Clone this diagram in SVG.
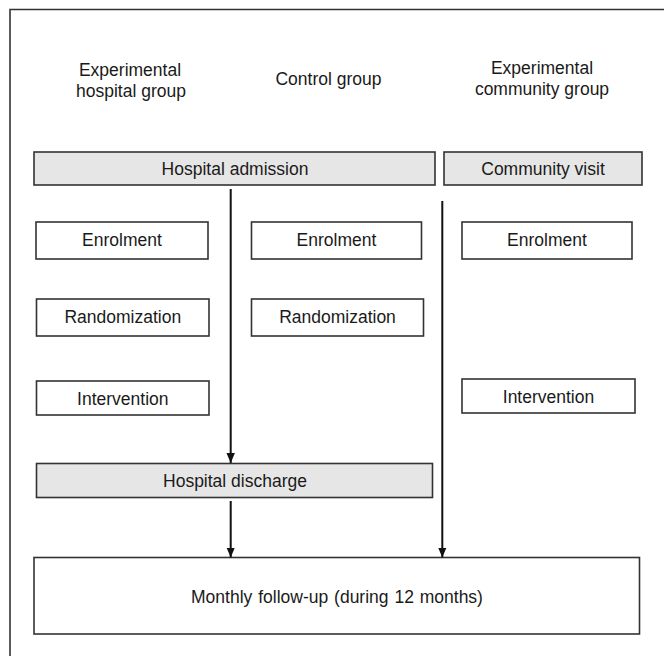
<svg xmlns="http://www.w3.org/2000/svg" width="664" height="656" viewBox="0 0 664 656">
<defs>
<style>
.box{fill:#ffffff;stroke:#333333;stroke-width:1.6}
.gbox{fill:#e6e6e6;stroke:#333333;stroke-width:1.6}
.t{font-family:"Liberation Sans",Arial,sans-serif;font-size:17.5px;fill:#1a1a1a;text-anchor:middle}
.ln{stroke:#111111;stroke-width:2;fill:none}
</style>
<marker id="ah" viewBox="0 0 10 10" refX="10" refY="5" markerWidth="10" markerHeight="10" markerUnits="userSpaceOnUse" orient="auto">
<path d="M0,0.8 L10,5 L0,9.2 Z" fill="#111111"/>
</marker>
</defs>
<rect width="664" height="656" fill="#ffffff"/>
<path d="M10,660 V9.5 H670" fill="none" stroke="#333333" stroke-width="1.6"/>

<g id="header-hospital">
<text class="t" x="130" y="76">Experimental</text>
<text class="t" x="131" y="97">hospital group</text>
</g>
<g id="header-control">
<text class="t" x="328.5" y="85">Control group</text>
</g>
<g id="header-community">
<text class="t" x="542" y="74">Experimental</text>
<text class="t" x="542" y="95">community group</text>
</g>

<g id="hospital-admission">
<rect class="gbox" x="34" y="152" width="401" height="33"/>
<text class="t" x="235" y="174.5">Hospital admission</text>
</g>
<g id="community-visit">
<rect class="gbox" x="444" y="152" width="198" height="33"/>
<text class="t" x="543" y="174.5">Community visit</text>
</g>

<g id="enrolment-1">
<rect class="box" x="36" y="222" width="172" height="37"/>
<text class="t" x="122" y="246">Enrolment</text>
</g>
<g id="enrolment-2">
<rect class="box" x="251.5" y="222" width="170" height="37"/>
<text class="t" x="336.5" y="246">Enrolment</text>
</g>
<g id="enrolment-3">
<rect class="box" x="462" y="222" width="170" height="37"/>
<text class="t" x="547" y="245.5">Enrolment</text>
</g>

<g id="randomization-1">
<rect class="box" x="36.5" y="299" width="172.5" height="37"/>
<text class="t" x="122.8" y="323">Randomization</text>
</g>
<g id="randomization-2">
<rect class="box" x="251.5" y="299" width="172" height="37"/>
<text class="t" x="337.5" y="323">Randomization</text>
</g>

<g id="intervention-1">
<rect class="box" x="36.5" y="381" width="172.5" height="34"/>
<text class="t" x="122.8" y="404.5">Intervention</text>
</g>
<g id="intervention-3">
<rect class="box" x="462" y="379" width="173" height="34"/>
<text class="t" x="548.5" y="403">Intervention</text>
</g>

<g id="hospital-discharge">
<rect class="gbox" x="36.5" y="463.5" width="396" height="34"/>
<text class="t" x="235" y="487">Hospital discharge</text>
</g>

<g id="follow-up">
<rect class="box" x="34" y="557.5" width="605.5" height="76.5"/>
<text class="t" x="337" y="603" word-spacing="1">Monthly follow-up (during 12 months)</text>
</g>

<g id="connectors">
<line class="ln" x1="230.7" y1="189" x2="230.7" y2="463" marker-end="url(#ah)"/>
<line class="ln" x1="442.3" y1="201" x2="442.3" y2="557.5" marker-end="url(#ah)"/>
<line class="ln" x1="230.7" y1="501" x2="230.7" y2="557.5" marker-end="url(#ah)"/>
</g>
</svg>
